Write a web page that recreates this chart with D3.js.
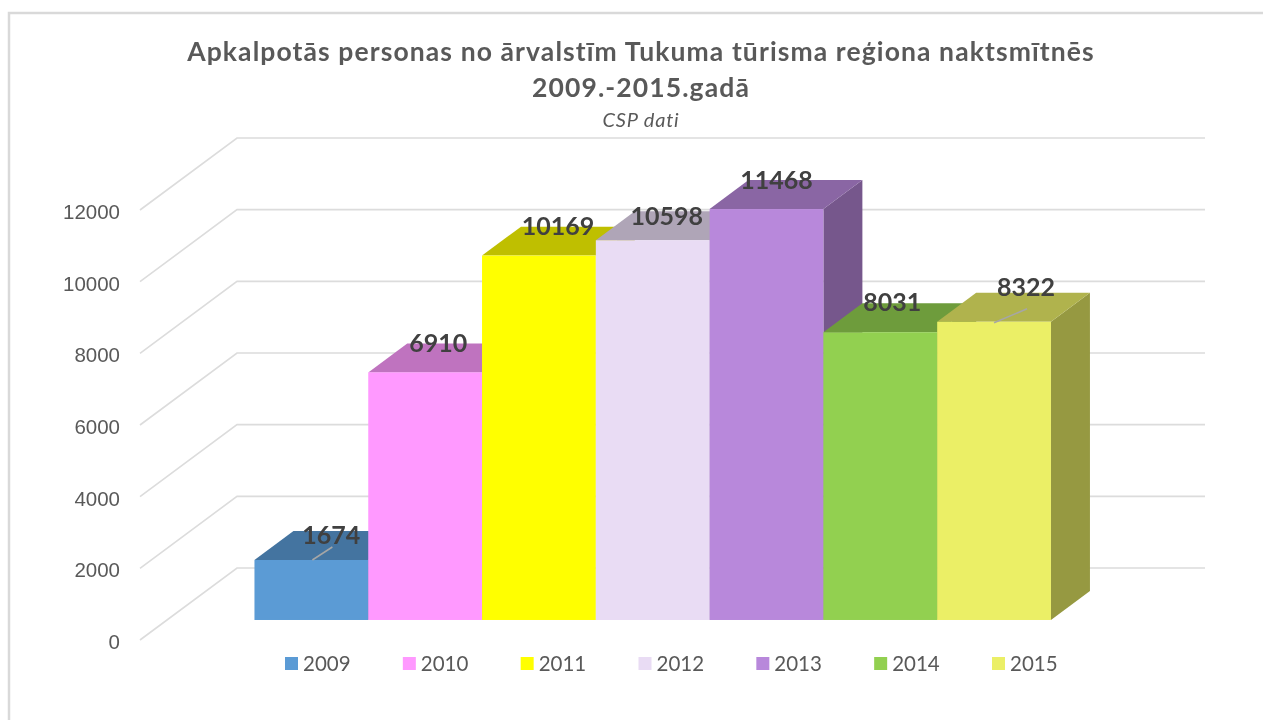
<!DOCTYPE html>
<html>
<head>
<meta charset="utf-8">
<script src="https://cdn.jsdelivr.net/npm/d3@7"></script>
<style>
  html, body { margin: 0; background: #fff; }
  svg { display: block; font-family: Lato, sans-serif; filter: blur(0.5px); }
  .axis text { font-size: 20.5px; fill: #595959; }
  .axis .domain { display: none; }
</style>
</head>
<body>
<div id="chart"></div>
<script>
var years = ["2009", "2010", "2011", "2012", "2013", "2014", "2015"];
var visitors = [1674, 6910, 10169, 10598, 11468, 8031, 8322];
var barColors = ["#5b9bd5", "#ff99ff", "#ffff00", "#e9dcf4", "#b888db", "#92d050", "#ebef66"];
var yTicks = [0, 2000, 4000, 6000, 8000, 10000, 12000];
var titleLines = ["Apkalpotās personas no ārvalstīm Tukuma tūrisma reģiona naktsmītnēs", "2009.-2015.gadā"];
var subtitle = "CSP dati";

// labels were dragged by hand in the original, these are the nudges from the bar top
var labelDx = [20, 13, 19, 14, 10, 12, 32];
var labelDy = [-16, -20, -21, -15, -20, -21, -26];

var width = 1263, height = 720;

var svg = d3.select("#chart")
  .append("svg")
    .attr("width", width)
    .attr("height", height);

// frame
svg.append("path")
    .attr("d", "M9,720V13H1263")
    .attr("fill", "none")
    .attr("stroke", "#d9d9d9")
    .attr("stroke-width", 2.5);

var x = d3.scaleBand().domain(years).range([227.5, 1024]);
var y = d3.scaleLinear().domain([0, 12000]).range([640, 210]);

// depth goes from the front of the floor (0) to the back wall (1)
var depthX = d3.scaleLinear().domain([0, 1]).range([0, 97]);
var depthY = d3.scaleLinear().domain([0, 1]).range([0, -72]);
var barFront = 0.278, barBack = 0.68;

function px(v, d) { return v + depthX(d); }
function py(v, d) { return y(v) + depthY(d); }

function poly(points) {
  return d3.line()(points);
}

// gridlines, side wall then back wall
var wallLeft = 140, wallRight = 1205;

svg.append("g")
    .attr("fill", "none")
    .attr("stroke", "#dcdcdc")
    .attr("stroke-width", 1.6)
  .selectAll("path")
  .data(yTicks)
  .enter().append("path")
    .attr("d", function(d) {
      return poly([[px(wallLeft, 0), py(d, 0)], [px(wallLeft, 1), py(d, 1)], [wallRight, py(d, 1)]]);
    });

// y axis labels
svg.append("g")
    .attr("class", "axis")
    .attr("transform", "translate(120,1)")
    .call(d3.axisLeft(y).tickValues(yTicks).tickSize(0).tickPadding(0).tickFormat(d3.format("d")))
    .selectAll("text")
    .attr("dy", "0.36em");

// bars, painted left to right so the next bar hides what it should
var bars = svg.selectAll(".bar")
  .data(years)
  .enter().append("g")
    .attr("class", "bar");

function shade(c, k) {
  var r = d3.rgb(c);
  return d3.rgb(r.r * k, r.g * k, r.b * k).formatHex();
}

bars.append("path")
    .attr("fill", function(d, i) { return shade(barColors[i], 0.64); })
    .attr("d", function(d, i) {
      var xr = x(d) + x.bandwidth();
      return poly([
        [px(xr, barFront), py(0, barFront)],
        [px(xr, barBack), py(0, barBack)],
        [px(xr, barBack), py(visitors[i], barBack)],
        [px(xr, barFront), py(visitors[i], barFront)]
      ]) + "Z";
    });

bars.append("path")
    .attr("fill", function(d, i) { return shade(barColors[i], 0.75); })
    .attr("d", function(d, i) {
      var xl = x(d), xr = x(d) + x.bandwidth(), v = visitors[i];
      return poly([
        [px(xl, barFront), py(v, barFront)],
        [px(xr, barFront), py(v, barFront)],
        [px(xr, barBack), py(v, barBack)],
        [px(xl, barBack), py(v, barBack)]
      ]) + "Z";
    });

bars.append("rect")
    .attr("fill", function(d, i) { return barColors[i]; })
    .attr("x", function(d) { return px(x(d), barFront); })
    .attr("y", function(d, i) { return py(visitors[i], barFront); })
    .attr("width", x.bandwidth())
    .attr("height", function(d, i) { return y(0) - y(visitors[i]); });

// leader lines of the two labels dragged furthest
svg.selectAll(".leader")
  .data([0, 6])
  .enter().append("path")
    .attr("class", "leader")
    .attr("fill", "none")
    .attr("stroke", "#a6a6a6")
    .attr("stroke-width", 1.5)
    .attr("d", function(i) {
      var cx = px(x(years[i]) + x.bandwidth() / 2, barFront);
      var top = py(visitors[i], barFront);
      return i === 0
        ? poly([[cx + 1, top], [cx + 21, top - 13]])
        : poly([[cx, top + 1], [cx + 33, top - 13]]);
    });

// value labels
svg.selectAll(".value")
  .data(years)
  .enter().append("text")
    .attr("class", "value")
    .attr("text-anchor", "middle")
    .attr("font-size", 25)
    .attr("font-weight", 700)
    .attr("fill", "#404040")
    .attr("x", function(d, i) { return px(x(d) + x.bandwidth() / 2, barFront) + labelDx[i]; })
    .attr("y", function(d, i) { return py(visitors[i], barFront) + labelDy[i]; })
    .text(function(d, i) { return visitors[i]; });

// legend
var legendX = d3.scalePoint().domain(years).range([285, 992]);

var legend = svg.selectAll(".legend")
  .data(years)
  .enter().append("g")
    .attr("class", "legend")
    .attr("transform", function(d) { return "translate(" + legendX(d) + ",657)"; });

legend.append("rect")
    .attr("width", 13)
    .attr("height", 13)
    .attr("fill", function(d, i) { return barColors[i]; });

legend.append("text")
    .attr("x", 18)
    .attr("y", 13.5)
    .attr("font-size", 20.5)
    .attr("fill", "#595959")
    .text(function(d) { return d; });

// titles
svg.selectAll(".title")
  .data(titleLines)
  .enter().append("text")
    .attr("class", "title")
    .attr("text-anchor", "middle")
    .attr("x", 641)
    .attr("y", function(d, i) { return 61 + i * 36; })
    .attr("font-size", 26.5)
    .attr("font-weight", 700)
    .attr("letter-spacing", 1.1)
    .attr("fill", "#595959")
    .text(function(d) { return d; });

svg.append("text")
    .attr("text-anchor", "middle")
    .attr("x", 641)
    .attr("y", 127)
    .attr("font-size", 20)
    .attr("font-style", "italic")
    .attr("letter-spacing", 0.8)
    .attr("fill", "#595959")
    .text(subtitle);
</script>
</body>
</html>
